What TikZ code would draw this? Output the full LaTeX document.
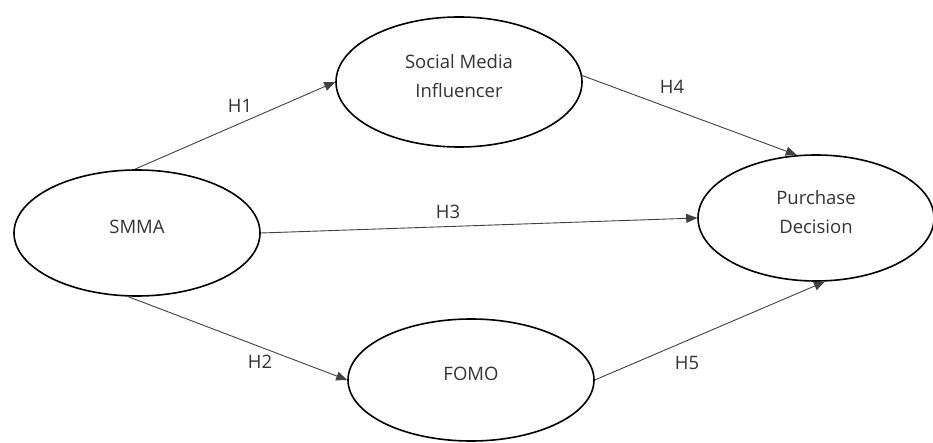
\documentclass[tikz,border=0pt]{standalone}
\usepackage{fontspec}
\setmainfont{Open Sans}
\usetikzlibrary{shapes.geometric,arrows.meta}
\begin{document}
\begin{tikzpicture}[x=1pt,y=-1pt,
  construct/.style={ellipse,draw=black,line width=1.6pt,inner sep=0pt},
  ctext/.style={align=center,font=\fontsize{18.5}{29}\selectfont,text=black!80,yshift=6pt},
  path/.style={draw=black!75,line width=0.9pt,-{Triangle[length=11pt,width=9pt]}},
  hlabel/.style={font=\fontsize{18.5}{22}\selectfont,text=black!80}]
\useasboundingbox (0,0) rectangle (933,443);
\node[construct,minimum width=246pt,minimum height=126pt,
  label={[ctext]center:SMMA}] (smma) at (137,233) {};
\node[construct,minimum width=246pt,minimum height=130pt,
  label={[ctext]center:Social Media\\Influencer}] (smi) at (459,82) {};
\node[construct,minimum width=236pt,minimum height=126pt,
  label={[ctext]center:Purchase\\Decision}] (pd) at (816,218) {};
\node[construct,minimum width=246pt,minimum height=122pt,
  label={[ctext]center:FOMO}] (fomo) at (471,380) {};
\draw[path] (smma.92) -- (smi.west);
\draw[path] (smma.east) -- (pd.west);
\draw[path] (smma.262) -- (fomo.west);
\draw[path] (smi.3) -- (pd.107);
\draw[path] (fomo.east) -- (pd.278);
\node[hlabel] (h1) at (240,106) {H1};
\node[hlabel] (h2) at (260,362) {H2};
\node[hlabel] (h3) at (448,212) {H3};
\node[hlabel] (h4) at (672,87) {H4};
\node[hlabel] (h5) at (687,363) {H5};
\end{tikzpicture}
\end{document}
